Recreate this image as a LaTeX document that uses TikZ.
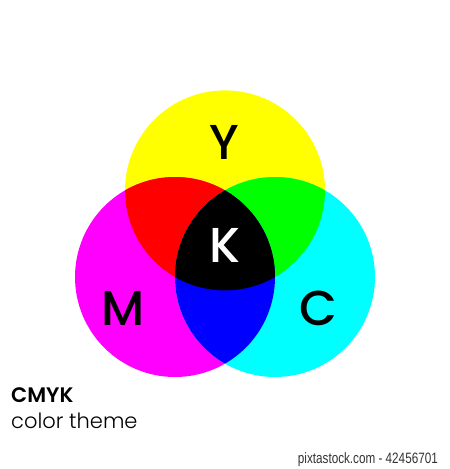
\documentclass[tikz,border=0pt]{standalone}
\usepackage{fontspec}
\setmainfont{Poppins}
\newfontfamily\semib{Poppins SemiBold}
\newfontfamily\medf{Poppins Medium}
\newfontfamily\lightf{Poppins Light}
\newfontfamily\footf{Liberation Sans}
\definecolor{pY}{RGB}{255,255,0}
\definecolor{pM}{RGB}{255,0,255}
\definecolor{pC}{RGB}{0,255,255}
\definecolor{pR}{RGB}{255,0,0}
\definecolor{pG}{RGB}{0,255,0}
\definecolor{pB}{RGB}{0,0,255}
\begin{document}
\begin{tikzpicture}[x=1pt,y=-1pt,
  letter/.style={font=\medf\fontsize{49}{49}\selectfont, inner sep=0pt, text=black},
  lbl/.style={inner sep=0pt, anchor=base west}]
\useasboundingbox[fill=white] (0,0) rectangle (450,469);
\def\R{100}
\coordinate (yc) at (225,190.4);
\coordinate (mc) at (175,277);
\coordinate (cc) at (275,277);
\fill[pY] (yc) circle (\R);
\fill[pM] (mc) circle (\R);
\fill[pC] (cc) circle (\R);
\begin{scope}
  \clip (yc) circle (\R);
  \fill[pR] (mc) circle (\R);
  \fill[pG] (cc) circle (\R);
\end{scope}
\begin{scope}
  \clip (mc) circle (\R);
  \fill[pB] (cc) circle (\R);
  \clip (cc) circle (\R);
  \fill[black] (yc) circle (\R);
\end{scope}
\node[letter] (Y) at (224,142.5) {Y};
\node[letter, text=white] (K) at (225,245) {K};
\node[letter] (M) at (123,308) {M};
\node[letter] (C) at (318,308.5) {C};
\node[lbl, font=\semib\fontsize{21}{21}\selectfont] (t1) at (11,402) {CMYK};
\node[lbl, font=\lightf\fontsize{21}{21}\selectfont] (t2) at (11,428) {color theme};
\node[inner sep=0pt, anchor=base east, font=\footf\fontsize{15}{15}\selectfont, text=black!80] (ft) at (438,463) {\scalebox{0.78}[1]{pixtastock.com - 42456701}};
\end{tikzpicture}
\end{document}
